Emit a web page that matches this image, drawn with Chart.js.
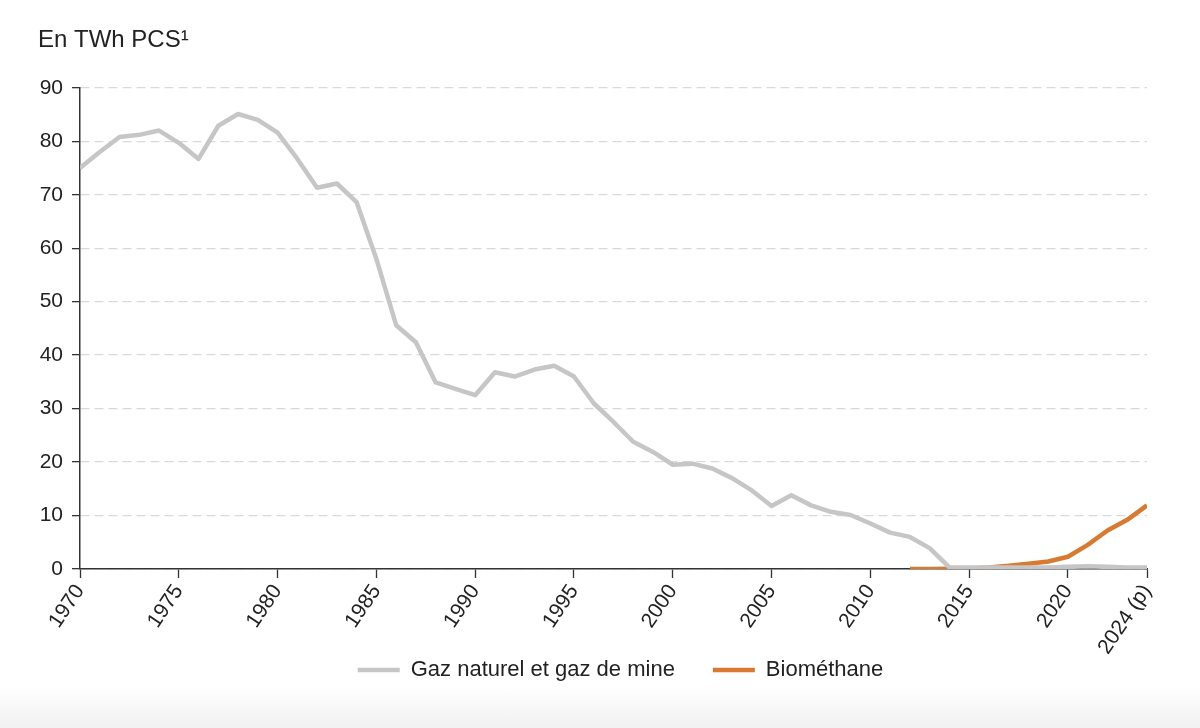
<!DOCTYPE html>
<html>
<head>
<meta charset="utf-8">
<script src="https://cdn.jsdelivr.net/npm/chart.js@4"></script>
<style>
  html, body { margin: 0; padding: 0; }
  body { width: 1200px; height: 728px; overflow: hidden;
         background: linear-gradient(to bottom, #ffffff 0px, #ffffff 686px, #f1f1f1 728px); }
  #wrap { position: relative; width: 1200px; height: 728px; }
</style>
</head>
<body>
<div id="wrap"><canvas id="c" width="1200" height="728"></canvas></div>
<script>
const titleText = 'En TWh PCS\u00B9';
const years = [1970,1971,1972,1973,1974,1975,1976,1977,1978,1979,
               1980,1981,1982,1983,1984,1985,1986,1987,1988,1989,
               1990,1991,1992,1993,1994,1995,1996,1997,1998,1999,
               2000,2001,2002,2003,2004,2005,2006,2007,2008,2009,
               2010,2011,2012,2013,2014,2015,2016,2017,2018,2019,
               2020,2021,2022,2023,2024];
const gasNaturel = [75.0,78.0,80.8,81.2,82.0,79.7,76.7,82.9,85.1,84.0,
                    81.6,76.7,71.3,72.1,68.6,58.0,45.6,42.4,34.9,33.7,
                    32.5,36.8,36.0,37.3,38.0,36.0,31.0,27.5,23.8,21.9,
                    19.5,19.7,18.8,17.0,14.7,11.8,13.8,11.9,10.7,10.1,
                    8.5,6.8,6.0,3.9,0.3,0.3,0.3,0.3,0.3,0.3,
                    0.4,0.5,0.4,0.3,0.3];
const biomethane = [null,null,null,null,null,null,null,null,null,null,
                    null,null,null,null,null,null,null,null,null,null,
                    null,null,null,null,null,null,null,null,null,null,
                    null,null,null,null,null,null,null,null,null,null,
                    null,null,0.0,0.0,0.05,0.1,0.3,0.6,1.0,1.4,
                    2.3,4.5,7.2,9.2,11.9];
const seriesNames = ['Gaz naturel et gaz de mine', 'Biométhane'];
const xTickValues = [1970,1975,1980,1985,1990,1995,2000,2005,2010,2015,2020,2024];
const xTickLabels = ['1970','1975','1980','1985','1990','1995','2000','2005','2010','2015','2020','2024 (p)'];
const yTickValues = [0,10,20,30,40,50,60,70,80,90];

const FONT = '"Liberation Sans", Arial, Helvetica, sans-serif';
const TXT = '#222222';

const toPts = arr => years.map((yr, i) => ({ x: yr, y: arr[i] }));

const legendShift = {
  id: 'legendShift',
  afterLayout(chart) {
    const lg = chart.legend;
    if (lg) { lg.left += 28; lg.right += 28; }
  }
};

new Chart(document.getElementById('c'), {
  type: 'line',
  data: {
    datasets: [
      { label: seriesNames[0], data: toPts(gasNaturel), borderColor: '#c6c6c6', backgroundColor: '#c6c6c6',
        borderWidth: 4.5, pointRadius: 0, tension: 0, borderJoinStyle: 'round', borderCapStyle: 'butt', order: 0 },
      { label: seriesNames[1], data: toPts(biomethane), borderColor: '#d97a33', backgroundColor: '#d97a33',
        borderWidth: 4.5, pointRadius: 0, tension: 0, spanGaps: false, borderJoinStyle: 'round', order: 1 }
    ]
  },
  plugins: [legendShift],
  options: {
    responsive: false,
    animation: false,
    devicePixelRatio: 1,
    layout: { padding: { left: 38, right: 53, top: 26, bottom: 37 } },
    plugins: {
      title: {
        display: true, text: titleText, align: 'start', color: TXT,
        font: { family: FONT, size: 24, weight: 'normal' },
        padding: { top: 0, bottom: 33 }
      },
      legend: {
        position: 'bottom',
        labels: {
          usePointStyle: true, pointStyle: 'line', pointStyleWidth: 42, boxWidth: 42, boxHeight: 4,
          color: TXT, font: { family: FONT, size: 22 }, padding: 38
        }
      },
      tooltip: { enabled: false }
    },
    scales: {
      x: {
        type: 'linear', min: 1970, max: 2024,
        afterBuildTicks: s => {
          s.ticks = xTickValues.map(v => ({ value: v }));
          s._computeLabelArea = () => undefined;
        },
        afterFit: s => { s.height = 52; },
        ticks: {
          autoSkip: false, maxRotation: 56, minRotation: 56, color: TXT, padding: 2,
          font: { family: FONT, size: 21 },
          callback: v => xTickLabels[xTickValues.indexOf(v)]
        },
        grid: { drawOnChartArea: false, drawTicks: true, tickLength: 9, tickColor: '#333', tickWidth: 1.3 },
        border: { display: true, color: '#333', width: 1.5 }
      },
      y: {
        min: 0, max: 90,
        afterBuildTicks: s => { s.ticks = yTickValues.map(v => ({ value: v })); },
        afterFit: s => { s.width = 42; },
        ticks: { color: TXT, font: { family: FONT, size: 21 }, padding: 9 },
        grid: { color: '#d9d9d9', lineWidth: 1.3, drawTicks: true, tickLength: 8,
                tickColor: '#333', tickWidth: 1.3, tickBorderDash: [] },
        border: { display: true, color: '#333', width: 1.5, dash: [9, 5] }
      }
    }
  }
});
</script>
</body>
</html>
